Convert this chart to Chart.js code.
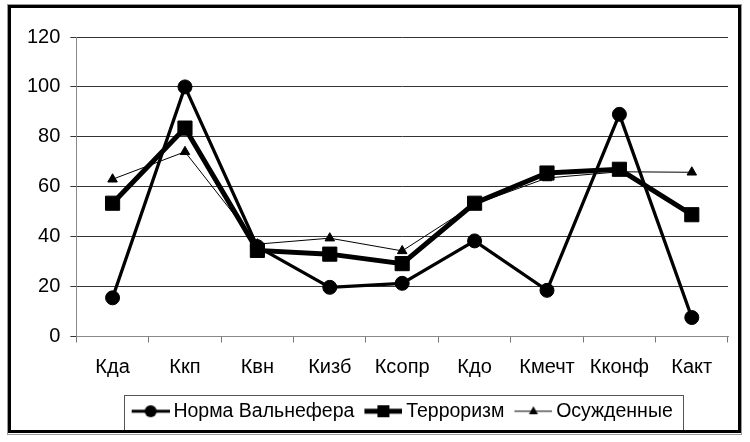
<!DOCTYPE html>
<html>
<head>
<meta charset="utf-8">
<script src="https://cdn.jsdelivr.net/npm/chart.js@4"></script>
<style>
  html, body { margin: 0; padding: 0; background: #fff; }
  #wrap { width: 750px; height: 442px; position: relative; }
</style>
</head>
<body>
<div id="wrap"><canvas id="chart" width="750" height="442"></canvas></div>
<script>
const categories = ['Кда', 'Ккп', 'Квн', 'Кизб', 'Ксопр', 'Кдо', 'Кмечт', 'Кконф', 'Какт'];
const normaValues = [15.5, 100, 36, 19.7, 21.3, 38.3, 18.5, 89, 7.6];
const terrorValues = [53.4, 83.5, 34.5, 33, 29.2, 53.4, 65.5, 67, 48.8];
const convictedValues = [63, 74, 37, 39.4, 34.3, 53, 63.5, 66, 65.8];
const yTicks = [0, 20, 40, 60, 80, 100, 120];

const FONT = '"Liberation Sans", Arial, sans-serif';
const FONT_SIZE = 20;

// legend marker: line with the point in the middle, drawn to a small canvas
const makeMarker = (lineWidth, drawPoint) => {
  const c = document.createElement('canvas');
  c.width = 44;
  c.height = 20;
  const ctx = c.getContext('2d');
  ctx.strokeStyle = '#000';
  ctx.fillStyle = '#000';
  ctx.lineWidth = lineWidth;
  ctx.beginPath();
  ctx.moveTo(6, 10);
  ctx.lineTo(44, 10);
  ctx.stroke();
  drawPoint(ctx, 25, 10);
  return c;
};

const markers = [
  makeMarker(3.2, (ctx, x, y) => { ctx.beginPath(); ctx.arc(x, y, 6, 0, Math.PI * 2); ctx.fill(); }),
  makeMarker(4.8, (ctx, x, y) => { ctx.fillRect(x - 6, y - 6, 12, 12); }),
  makeMarker(1, (ctx, x, y) => {
    ctx.beginPath();
    ctx.moveTo(x, y - 5);
    ctx.lineTo(x + 4.5, y + 3);
    ctx.lineTo(x - 4.5, y + 3);
    ctx.closePath();
    ctx.fill();
  }),
];

const frame = {
  id: 'frame',
  afterLayout(chart) {
    // center the legend on the plot area like the original
    const lg = chart.legend;
    if (!lg) return;
    const shift = (chart.chartArea.left + chart.chartArea.right) / 2 - (lg.left + lg.right) / 2;
    lg.left += shift;
    lg.right += shift;
  },
  afterDraw(chart) {
    const ctx = chart.ctx;
    ctx.save();
    // legend box
    const hb = chart.legend.legendHitBoxes;
    if (hb && hb.length) {
      const first = hb[0];
      const last = hb[hb.length - 1];
      ctx.strokeStyle = '#555';
      ctx.lineWidth = 1;
      ctx.strokeRect(Math.round(first.left - 8) + 0.5, Math.round(first.top - 7) + 0.5,
        Math.round(last.left + last.width + 10 - (first.left - 8)), 35);
    }
    // outer border
    ctx.strokeStyle = '#999';
    ctx.lineWidth = 1;
    ctx.strokeRect(7.5, 4.5, 734, 430);
    ctx.strokeStyle = '#000';
    ctx.lineWidth = 3;
    ctx.strokeRect(9.5, 6.5, 730, 425);
    ctx.restore();
  }
};

new Chart(document.getElementById('chart'), {
  type: 'line',
  data: {
    labels: categories,
    datasets: [
      {
        label: 'Норма Вальнефера',
        data: normaValues,
        borderColor: '#000',
        backgroundColor: '#000',
        borderWidth: 3.3,
        pointStyle: 'circle',
        pointRadius: 7,
        pointBorderWidth: 1,
        tension: 0,
      },
      {
        label: 'Терроризм',
        data: terrorValues,
        borderColor: '#000',
        backgroundColor: '#000',
        borderWidth: 5,
        pointStyle: 'rect',
        pointRadius: 10,
        pointBorderWidth: 1,
        tension: 0,
      },
      {
        label: 'Осужденные',
        data: convictedValues,
        borderColor: '#000',
        backgroundColor: '#000',
        borderWidth: 1,
        pointStyle: 'triangle',
        pointRadius: 5.5,
        pointBorderWidth: 1,
        tension: 0,
      },
    ]
  },
  options: {
    responsive: false,
    animation: false,
    events: [],
    layout: { padding: { left: 17, right: 22, top: 37, bottom: 11 } },
    scales: {
      x: {
        offset: true,
        grid: { offset: true, drawOnChartArea: false, drawTicks: true, tickLength: 6, color: '#777' },
        border: { color: '#888', width: 1 },
        ticks: { color: '#000', padding: 6, font: { family: FONT, size: FONT_SIZE, lineHeight: '37px' } },
      },
      y: {
        min: 0,
        max: 120,
        afterBuildTicks: (axis) => { axis.ticks = yTicks.map(v => ({ value: v })); },
        grid: { color: '#333', tickLength: 6, lineWidth: 1 },
        border: { color: '#888', width: 1 },
        ticks: { color: '#000', padding: 10, font: { family: FONT, size: FONT_SIZE } },
      }
    },
    plugins: {
      tooltip: { enabled: false },
      legend: {
        position: 'bottom',
        labels: {
          color: '#000',
          font: { family: FONT, size: 19.5 },
          padding: 10,
          usePointStyle: true,
          pointStyleWidth: 32,
          generateLabels: (chart) => chart.data.datasets.map((ds, i) => ({
            text: ds.label,
            pointStyle: markers[i],
            fillStyle: '#000',
            strokeStyle: '#000',
            lineWidth: 0,
            hidden: false,
            datasetIndex: i,
          })),
        }
      }
    }
  },
  plugins: [frame]
});
</script>
</body>
</html>
